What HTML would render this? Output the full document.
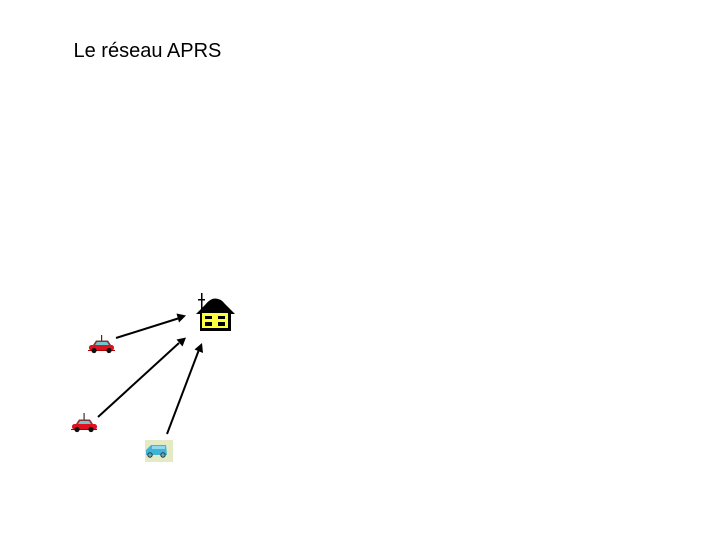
<!DOCTYPE html>
<html lang="fr">
<head>
<meta charset="utf-8">
<title>Le réseau APRS</title>
<style>
html,body{margin:0;padding:0;background:#fff;}
body{width:720px;height:540px;overflow:hidden;position:relative;}
svg{position:absolute;left:0;top:0;}
</style>
</head>
<body>
<svg width="720" height="540" viewBox="0 0 720 540" xmlns="http://www.w3.org/2000/svg">
  <text x="73.5" y="57" font-family="'Liberation Sans',sans-serif" font-size="20" fill="#000">Le réseau APRS</text>

  <!-- arrows -->
  <g stroke="#000" stroke-width="2">
    <line x1="116" y1="338" x2="178" y2="318.5"/>
    <line x1="98" y1="417" x2="179" y2="343"/>
    <line x1="167" y1="434" x2="198.5" y2="351"/>
  </g>
  <g fill="#000">
    <polygon points="186,315.5 176.5,313.5 179,322.5"/>
    <polygon points="186,337.5 176.5,339.5 182.5,346.5"/>
    <polygon points="202,343 194.5,349.5 203,353"/>
  </g>

  <!-- house -->
  <g>
    <rect x="201" y="293" width="1.5" height="20" fill="#000"/>
    <rect x="198" y="299" width="7" height="1.5" fill="#000"/>
    <path d="M196,314 L205,305 Q210,298.5 215,298.5 Q221,298.5 225,304 L235,314 Z" fill="#000"/>
    <rect x="200" y="313" width="31" height="18" fill="#000"/>
    <rect x="202" y="313" width="26" height="15" fill="#ffff40"/>
    <rect x="205" y="316" width="7" height="3" fill="#000"/>
    <rect x="218" y="316" width="7" height="3" fill="#000"/>
    <rect x="205" y="322" width="7" height="4" fill="#000"/>
    <rect x="218" y="322" width="7" height="4" fill="#000"/>
  </g>

  <!-- car 1 -->
  <g>
    <rect x="101" y="335" width="1.2" height="7" fill="#333"/>
    <polygon points="93,345 96,340.5 108,340.5 111,345" fill="#8a3030"/>
    <polygon points="95,345 97,342 107,342 109,345" fill="#6cc8cc"/>
    <rect x="89" y="345" width="25" height="5.5" rx="2.5" fill="#e01020"/>
    <rect x="88" y="350" width="27" height="1" fill="#a00"/>
    <circle cx="94" cy="350.5" r="2.6" fill="#111"/>
    <circle cx="109" cy="350.5" r="2.6" fill="#111"/>
  </g>

  <!-- car 2 -->
  <g>
    <rect x="83.5" y="413" width="1.2" height="8" fill="#333"/>
    <polygon points="76,424 79,419.5 90,419.5 93,424" fill="#8a3030"/>
    <polygon points="78,424 80,421 89,421 91,424" fill="#6cc8cc"/>
    <rect x="72" y="424" width="25" height="5.5" rx="2.5" fill="#e01020"/>
    <rect x="71" y="429" width="26" height="1" fill="#a00"/>
    <circle cx="77" cy="429.5" r="2.6" fill="#111"/>
    <circle cx="91" cy="429.5" r="2.6" fill="#111"/>
  </g>

  <!-- van -->
  <g>
    <rect x="145" y="440" width="28" height="22" fill="#e4eac4"/>
    <path d="M146,455 L146,450 L151,445 L166,445 L167,455 Z" fill="#3fb4d8"/>
    <rect x="152" y="446" width="13" height="3" fill="#8fd8ee"/>
    <circle cx="150" cy="455" r="2.2" fill="#6aa" stroke="#334" stroke-width="1"/>
    <circle cx="163" cy="455" r="2.2" fill="#6aa" stroke="#334" stroke-width="1"/>
  </g>
</svg>
</body>
</html>
